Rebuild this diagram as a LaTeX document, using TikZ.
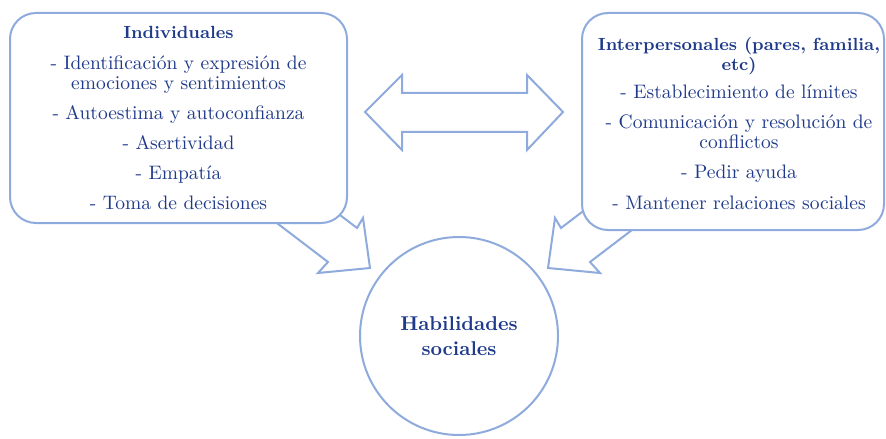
\documentclass[tikz,border=0pt]{standalone}
\usepackage{fontspec}

\definecolor{textblue}{RGB}{31,58,138}
\definecolor{lineblue}{RGB}{143,170,220}

\newcommand{\headtxt}[1]{{\fontsize{8.8}{10}\selectfont\bfseries #1}}

\tikzset{
	panel/.style={draw=lineblue, line width=1pt, fill=white, rounded corners=13pt},
	paneltext/.style={align=center, text=textblue, font=\fontsize{9.75}{10}\selectfont},
	blockarrow/.style={draw=lineblue, line width=1pt, fill=white, line join=miter},
}

\begin{document}
\begin{tikzpicture}[x=0.5pt, y=-0.5pt]
		\useasboundingbox (0,0) rectangle (886,438);

		\coordinate (left) at (178.5,118);
		\coordinate (right) at (733,121.5);
		\coordinate (centre) at (459,336);

		% draw the two arrows into the circle (tails hidden under the boxes)
		\draw [blockarrow] (277,167) -- (357,228) -- (363,218) -- (370,268)
			-- (318,273) -- (328,262) -- (248,201) -- cycle;
		\draw [blockarrow] (641,167) -- (561,228) -- (555,218) -- (548,268)
			-- (600,273) -- (590,262) -- (670,201) -- cycle;

		% draw the boxes
		\node [panel, paneltext, minimum width=168.5pt, minimum height=105pt] (indiv) at (left)
			{\headtxt{Individuales}\\[5.5pt]
			- Identificación y expresión de\\
			emociones y sentimientos\\[5pt]
			- Autoestima y autoconfianza\\[5pt]
			- Asertividad\\[5pt]
			- Empatía\\[5pt]
			- Toma de decisiones};

		\node [panel, minimum width=151pt, minimum height=108.5pt] (inter) at (right) {};
		\node [paneltext] (intertext) at ([xshift=3pt, yshift=-1pt]inter.center)
			{\headtxt{Interpersonales (pares, familia,}\\
			\headtxt{etc)}\\[4pt]
			- Establecimiento de límites\\[5pt]
			- Comunicación y resolución de\\
			conflictos\\[5pt]
			- Pedir ayuda\\[5.5pt]
			- Mantener relaciones sociales};

		% draw the double arrow between the boxes
		\draw [blockarrow] (365,112) -- (402,75) -- (402,93) -- (527,93) -- (527,75)
			-- (563,112) -- (527,150) -- (527,132) -- (402,132) -- (402,150) -- cycle;

		% draw the circle
		\node [circle, draw=lineblue, line width=1pt, fill=white, minimum size=99pt,
			align=center, text=textblue, font=\fontsize{10}{12.5}\selectfont\bfseries] (skills) at (centre)
			{Habilidades\\sociales};
\end{tikzpicture}
\end{document}
